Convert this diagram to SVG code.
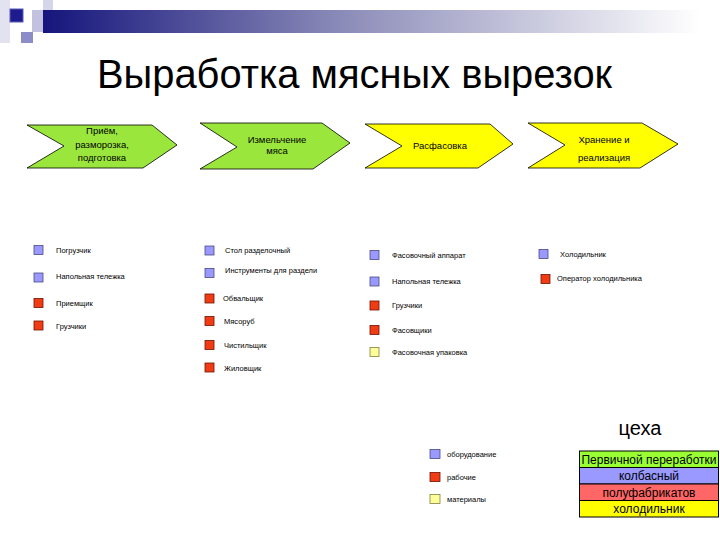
<svg xmlns="http://www.w3.org/2000/svg" width="720" height="540" viewBox="0 0 720 540">
<defs>
<linearGradient id="bar" x1="43" y1="0" x2="700" y2="0" gradientUnits="userSpaceOnUse">
<stop offset="0" stop-color="#15157c"/>
<stop offset="0.45" stop-color="#8a8ab8"/>
<stop offset="1" stop-color="#ffffff"/>
</linearGradient>
</defs>
<style>
text{font-family:"Liberation Sans",Arial,sans-serif;fill:#000}
.chev{stroke:#000;stroke-width:0.8}
.green{fill:#9be63c}
.yellow{fill:#ffff00}
.ct{font-size:9.5px;text-anchor:middle}
.lt{font-size:7.5px}
.eq{fill:#9999ff;stroke:#4a4a80;stroke-width:0.8}
.wk{fill:#f03c14;stroke:#701000;stroke-width:0.8}
.mt{fill:#ffff99;stroke:#808040;stroke-width:0.8}
.row{stroke:#000;stroke-width:1}
.tt{font-size:12px;text-anchor:middle}
</style>
<rect width="720" height="540" fill="#fff"/>
<g id="decoration">
<rect x="0" y="0" width="10" height="43" fill="#e2e2f1"/>
<rect x="43" y="0" width="10" height="22" fill="#d6d6ea"/>
<rect x="32" y="10" width="11" height="22" fill="#c2c2e0"/>
<rect x="10" y="9" width="13" height="13" fill="#1c1c8e" stroke="#5a5ab8" stroke-width="1"/>
<rect x="21" y="32" width="12" height="11" fill="#8c8cc8"/>
<rect x="43" y="10" width="677" height="23" fill="url(#bar)"/>
</g>
<text x="97" y="88" font-size="40" textLength="515" lengthAdjust="spacingAndGlyphs">Выработка мясных вырезок</text>
<g id="connectors"/>
<g id="stage1">
<polygon class="chev green" points="27,125 152,125 177,145 143,168 27,168 64,146"/>
<text class="ct" x="102" y="134">Приём,</text>
<text class="ct" x="102" y="148">разморозка,</text>
<text class="ct" x="102" y="161">подготовка</text>
</g>
<g id="stage2">
<polygon class="chev green" points="200,123 322,123 350,143 313,169 200,169 237,147"/>
<text class="ct" x="277" y="143">Измельчение</text>
<text class="ct" x="277" y="154">мяса</text>
</g>
<g id="stage3">
<polygon class="chev yellow" points="365,124 490,124 513,144 478,168 365,168 402,146"/>
<text class="ct" x="440" y="149">Расфасовка</text>
</g>
<g id="stage4">
<polygon class="chev yellow" points="528,123 642,123 678,144 640,168 528,168 565,145"/>
<text class="ct" x="604" y="143">Хранение и</text>
<text class="ct" x="604" y="161">реализация</text>
</g>
<g id="list1">
<rect class="eq" x="34" y="245.5" width="9" height="9"/><text class="lt" x="56" y="253">Погрузчик</text>
<rect class="eq" x="34" y="273" width="9" height="9"/><text class="lt" x="56" y="279">Напольная тележка</text>
<rect class="wk" x="34" y="298.5" width="9" height="9"/><text class="lt" x="56" y="305.5">Приемщик</text>
<rect class="wk" x="34" y="321" width="9" height="9"/><text class="lt" x="56" y="328.5">Грузчики</text>
</g>
<g id="list2">
<rect class="eq" x="205" y="246" width="9" height="9"/><text class="lt" x="225" y="253">Стол разделочный</text>
<rect class="eq" x="205" y="268.5" width="9" height="9"/><text class="lt" x="225" y="272.5">Инструменты для раздели</text>
<rect class="wk" x="205" y="294" width="9" height="9"/><text class="lt" x="223" y="301">Обвальщик</text>
<rect class="wk" x="205" y="316.5" width="9" height="9"/><text class="lt" x="224" y="323.5">Мясоруб</text>
<rect class="wk" x="205" y="340.5" width="9" height="9"/><text class="lt" x="224" y="347.5">Чистильщик</text>
<rect class="wk" x="205" y="363" width="9" height="9"/><text class="lt" x="224" y="370.5">Жиловщик</text>
</g>
<g id="list3">
<rect class="eq" x="370" y="250.5" width="9" height="9"/><text class="lt" x="392" y="257.5">Фасовочный аппарат</text>
<rect class="eq" x="370" y="277" width="9" height="9"/><text class="lt" x="392" y="284">Напольная тележка</text>
<rect class="wk" x="370" y="301" width="9" height="9"/><text class="lt" x="392" y="308">Грузчики</text>
<rect class="wk" x="370" y="325.5" width="9" height="9"/><text class="lt" x="392" y="332.5">Фасовщики</text>
<rect class="mt" x="370" y="347.5" width="9" height="9"/><text class="lt" x="392" y="354.5">Фасовочная упаковка</text>
</g>
<g id="list4">
<rect class="eq" x="539" y="249.5" width="9" height="9"/><text class="lt" x="560" y="256.5">Холодильник</text>
<rect class="wk" x="541" y="274.5" width="9" height="9"/><text class="lt" x="557" y="281">Оператор холодильника</text>
</g>
<g id="legend">
<rect class="eq" x="430" y="449.5" width="10" height="9"/><text class="lt" x="447" y="457" font-size="8">оборудование</text>
<rect class="wk" x="430" y="472.5" width="10" height="9"/><text class="lt" x="447" y="480" font-size="8">рабочие</text>
<rect class="mt" x="430" y="494.5" width="10" height="9"/><text class="lt" x="447" y="502" font-size="8">материалы</text>
</g>
<g id="workshops">
<text x="640" y="435" font-size="20" text-anchor="middle">цеха</text>
<rect class="row" x="579.5" y="451" width="139" height="16.5" fill="#99ff33"/>
<rect class="row" x="579.5" y="467.5" width="139" height="16.5" fill="#9999ff"/>
<rect class="row" x="579.5" y="484" width="139" height="16.5" fill="#ff6666"/>
<rect class="row" x="579.5" y="500.5" width="139" height="16.5" fill="#ffff00"/>
<text class="tt" x="649" y="463.5" textLength="135" lengthAdjust="spacingAndGlyphs">Первичной переработки</text>
<text class="tt" x="649" y="480">колбасный</text>
<text class="tt" x="649" y="496.5">полуфабрикатов</text>
<text class="tt" x="649" y="513">холодильник</text>
</g>
</svg>
